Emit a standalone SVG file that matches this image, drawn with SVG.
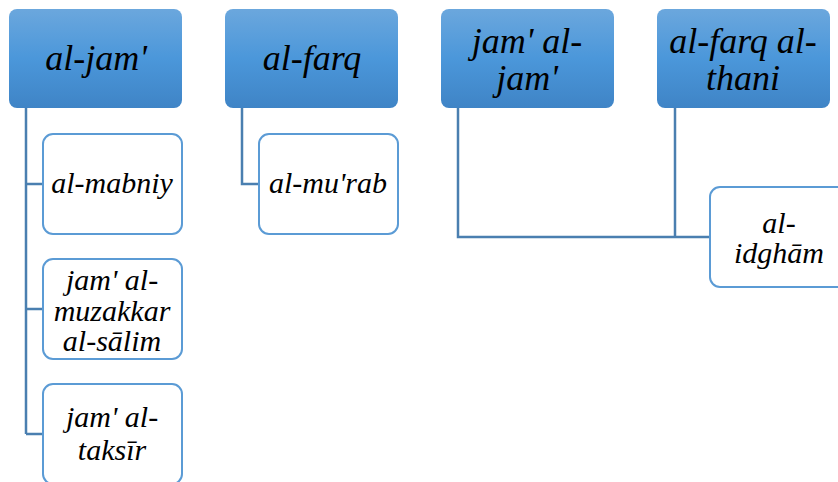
<svg xmlns="http://www.w3.org/2000/svg" width="838" height="482" viewBox="0 0 838 482">
<defs>
<linearGradient id="g" x1="0" y1="0" x2="0" y2="1">
<stop offset="0" stop-color="#6ba7dd"/>
<stop offset="0.5" stop-color="#4b97da"/>
<stop offset="1" stop-color="#3f84c6"/>
</linearGradient>
<style>
.top{fill:url(#g);stroke:none}
.child{fill:#fff;stroke:#5b9bd5;stroke-width:2}
.t{font-family:"Liberation Serif","DejaVu Serif",serif;font-style:italic;fill:#000;text-anchor:middle}
.tt{font-size:36px}
.ct{font-size:30px}
.conn{fill:none;stroke:#4a7fb0;stroke-width:2.5}
</style>
</defs>
<rect width="838" height="482" fill="#fff"/>
<g id="connectors">
<path class="conn" d="M26 108V434M26 184H43M26 309H43M26 434H43"/>
<path class="conn" d="M242 108V184H259"/>
<path class="conn" d="M458 108V237H710"/>
<path class="conn" d="M675 108V237"/>
</g>
<g id="n-aljam"><rect class="top" x="9" y="9" width="173" height="99" rx="8"/><text class="t tt" x="96" y="70">al-jam'</text></g>
<g id="n-alfarq"><rect class="top" x="225" y="9" width="173" height="99" rx="8"/><text class="t tt" x="312" y="70">al-farq</text></g>
<g id="n-jamaljam"><rect class="top" x="441" y="9" width="173" height="99" rx="8"/><text class="t tt" x="527"><tspan x="527" y="53">jam' al-</tspan><tspan x="527" y="90">jam'</tspan></text></g>
<g id="n-alfarqalthani"><rect class="top" x="657" y="9" width="173" height="99" rx="8"/><text class="t tt" x="743"><tspan x="743" y="53">al-farq al-</tspan><tspan x="743" y="90">thani</tspan></text></g>
<g id="n-almabniy"><rect class="child" x="43" y="134" width="139" height="100" rx="10"/><text class="t ct" x="112" y="193">al-mabniy</text></g>
<g id="n-almurab"><rect class="child" x="259" y="134" width="139" height="100" rx="10"/><text class="t ct" x="328" y="193">al-mu'rab</text></g>
<g id="n-muzakkar"><rect class="child" x="43" y="259" width="139" height="100" rx="10"/><text class="t ct"><tspan x="112" y="290">jam' al-</tspan><tspan x="112" y="321">muzakkar</tspan><tspan x="112" y="351">al-sālim</tspan></text></g>
<g id="n-taksir"><rect class="child" x="43" y="384" width="139" height="100" rx="10"/><text class="t ct"><tspan x="112" y="427">jam' al-</tspan><tspan x="112" y="460">taksīr</tspan></text></g>
<g id="n-idgham"><rect class="child" x="710" y="187" width="139" height="100" rx="10"/><text class="t ct"><tspan x="779" y="233">al-</tspan><tspan x="779" y="263">idghām</tspan></text></g>
</svg>
